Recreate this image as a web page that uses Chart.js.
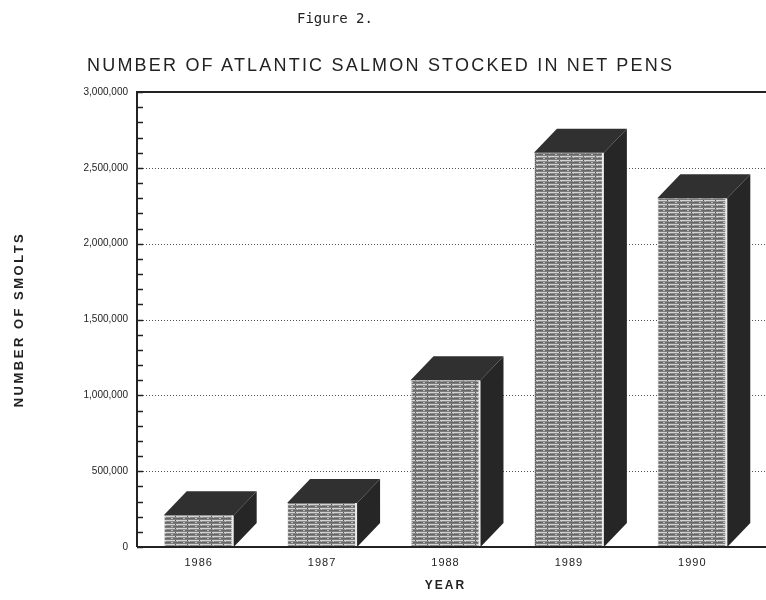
<!DOCTYPE html>
<html>
<head>
<meta charset="utf-8">
<script src="https://cdn.jsdelivr.net/npm/chart.js@4.4.0/dist/chart.umd.min.js"></script>
<style>
  html, body { margin: 0; padding: 0; background: #fff; overflow: hidden; }
  #wrap { position: relative; width: 766px; height: 600px; }
  canvas { position: absolute; left: 0; top: 0; }
  #fig { position: absolute; left: 297px; top: 9px; font: 14px "DejaVu Sans Mono", monospace; color: #222; white-space: pre; line-height: 18px; }
  #ttl { position: absolute; left: 87px; top: 55px; font: 18px "Liberation Sans", Arial, sans-serif; letter-spacing: 2.2px; color: #222; white-space: nowrap; line-height: 20px; }
</style>
</head>
<body>
<div id="wrap">
  <canvas id="salmonChart" width="766" height="600"></canvas>
  <div id="fig">Figure 2.</div>
  <div id="ttl">NUMBER OF ATLANTIC SALMON STOCKED IN NET PENS</div>
</div>
<script>
// values
var years = ['1986', '1987', '1988', '1989', '1990'];
var smolts = [210000, 290000, 1100000, 2600000, 2300000];
var yTicks = [0, 500000, 1000000, 1500000, 2000000, 2500000, 3000000];
var minorStep = 100000;

var ink = '#222';
var font = 'Liberation Sans, Arial, sans-serif';

// striped grey fill for the front of the boxes
function makeStripes() {
  var c = document.createElement('canvas');
  c.width = 12; c.height = 4;
  var g = c.getContext('2d');
  var rows = ['#d4d4d4', '#8a8a8a', '#666666', '#7c7c7c'];
  rows.forEach(function (col, i) { g.fillStyle = col; g.fillRect(0, i, 12, 1); });
  g.fillStyle = '#bdbdbd';
  g.fillRect(3, 2, 2, 1); g.fillRect(9, 1, 1, 1);
  g.fillStyle = '#555';
  g.fillRect(7, 0, 1, 1);
  return g.createPattern(c, 'repeat');
}

var depthX = 23, depthY = 24;

var framePlugin = {
  id: 'frame',
  beforeDatasetsDraw: function (chart) {
    var ctx = chart.ctx, a = chart.chartArea, y = chart.scales.y, w = chart.width;
    ctx.save();
    // dotted grid lines
    ctx.strokeStyle = '#555';
    ctx.lineWidth = 1;
    ctx.setLineDash([1, 2]);
    yTicks.forEach(function (v) {
      if (v === yTicks[0] || v === yTicks[yTicks.length - 1]) return;
      var py = Math.round(y.getPixelForValue(v)) + 0.5;
      ctx.beginPath(); ctx.moveTo(a.left, py); ctx.lineTo(w, py); ctx.stroke();
    });
    ctx.setLineDash([]);
    // small inside ticks on the value axis
    ctx.strokeStyle = ink;
    ctx.lineWidth = 1.5;
    for (var v = 0; v <= y.max; v += minorStep) {
      var py = Math.round(y.getPixelForValue(v)) + 0.5;
      ctx.beginPath(); ctx.moveTo(a.left, py); ctx.lineTo(a.left + 6, py); ctx.stroke();
    }
    // top and left frame
    ctx.lineWidth = 2;
    ctx.beginPath();
    ctx.moveTo(w, a.top); ctx.lineTo(a.left, a.top); ctx.lineTo(a.left, a.bottom);
    ctx.stroke();
    ctx.restore();
  },
  afterDatasetsDraw: function (chart) {
    var ctx = chart.ctx, a = chart.chartArea;
    var meta = chart.getDatasetMeta(0);
    ctx.save();
    meta.data.forEach(function (bar) {
      var p = bar.getProps(['x', 'y', 'base', 'width'], true);
      var l = p.x - p.width / 2, r = p.x + p.width / 2;
      // top face
      ctx.fillStyle = '#303030';
      ctx.beginPath();
      ctx.moveTo(l, p.y); ctx.lineTo(l + depthX, p.y - depthY);
      ctx.lineTo(r + depthX, p.y - depthY); ctx.lineTo(r, p.y);
      ctx.closePath(); ctx.fill();
      // side face
      ctx.fillStyle = '#262626';
      ctx.beginPath();
      ctx.moveTo(r, p.y); ctx.lineTo(r + depthX, p.y - depthY);
      ctx.lineTo(r + depthX, p.base - depthY); ctx.lineTo(r, p.base);
      ctx.closePath(); ctx.fill();
    });
    // bottom axis line
    ctx.strokeStyle = ink;
    ctx.lineWidth = 2;
    ctx.beginPath(); ctx.moveTo(a.left, a.bottom); ctx.lineTo(chart.width, a.bottom); ctx.stroke();
    ctx.restore();
  }
};

// wider letter spacing for the axis titles / year labels
function spaced(fn, amount) {
  return function () {
    this.ctx.save();
    this.ctx.letterSpacing = amount;
    fn.apply(this, arguments);
    this.ctx.restore();
  };
}
var spacingPlugin = {
  id: 'spacing',
  afterLayout: function (chart) {
    var sy = chart.scales.y, sx = chart.scales.x;
    if (!sy._spaced) { sy.drawTitle = spaced(sy.drawTitle, '2.5px'); sy._spaced = true; }
    if (!sx._spaced) {
      sx.drawTitle = spaced(sx.drawTitle, '2px');
      sx.drawLabels = spaced(sx.drawLabels, '1px');
      sx._spaced = true;
    }
  }
};

var ctx = document.getElementById('salmonChart');
var salmonChart = new Chart(ctx, {
  type: 'bar',
  data: {
    labels: years,
    datasets: [{
      data: smolts,
      backgroundColor: makeStripes(),
      borderColor: '#ececec',
      borderWidth: { left: 1, right: 2, top: 0, bottom: 0 },
      barPercentage: 0.567,
      categoryPercentage: 1
    }]
  },
  options: {
    responsive: false,
    animation: false,
    layout: { padding: { top: 92, right: 12, left: 0, bottom: 0 } },
    plugins: {
      legend: { display: false },
      tooltip: { enabled: false }
    },
    scales: {
      x: {
        grid: { display: false, drawTicks: false },
        border: { display: false },
        ticks: { color: ink, padding: 9, font: { family: font, size: 11 } },
        title: {
          display: true, text: 'YEAR', color: ink,
          font: { family: font, size: 12, weight: 'bold' },
          padding: { top: 0, bottom: 7 }
        },
        afterFit: function (s) { s.height = 53; }
      },
      y: {
        min: 0,
        max: yTicks[yTicks.length - 1],
        afterBuildTicks: function (s) {
          s.ticks = yTicks.map(function (v) { return { value: v }; });
        },
        grid: { display: false, drawTicks: false },
        border: { display: false },
        ticks: {
          color: ink, padding: 9, font: { family: font, size: 10 },
          callback: function (v) { return Number(v).toLocaleString('en-US'); }
        },
        title: {
          display: true, text: 'NUMBER OF SMOLTS', color: ink,
          font: { family: font, size: 13, weight: 'bold' },
          padding: { top: 12, bottom: 0 }
        },
        afterFit: function (s) { s.width = 137; }
      }
    }
  },
  plugins: [framePlugin, spacingPlugin]
});
</script>
</body>
</html>
